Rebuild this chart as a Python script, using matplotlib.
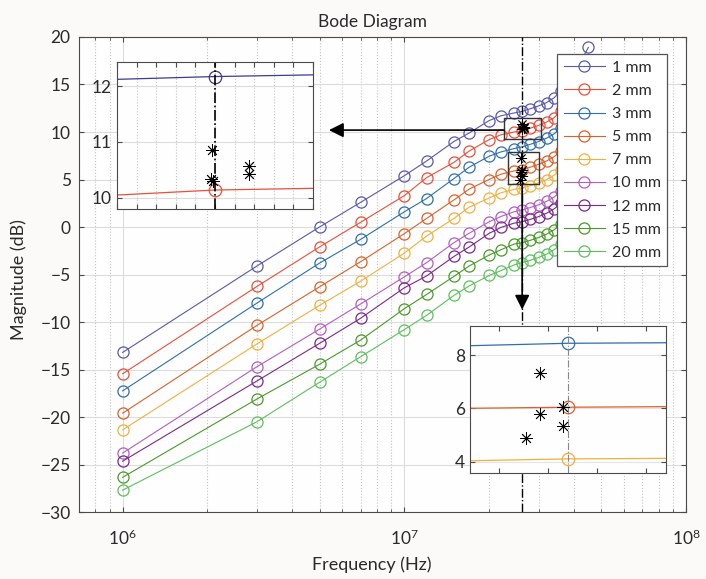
"""
Diagramme de Bode : amplitude en fonction de la frequence pour plusieurs entrefers
"""
import numpy as np
import matplotlib.pyplot as plt
from matplotlib.ticker import LogLocator, MultipleLocator, NullFormatter

plt.rcParams['font.family'] = ['Lato', 'DejaVu Sans']

# frequences des points de mesure (Hz)
freq = [1e6, 3e6, 5e6, 7e6, 1e7, 1.2e7, 1.5e7, 1.7e7, 2e7, 2.2e7, 2.45e7, 2.62e7,
        2.8e7, 3e7, 3.2e7, 3.4e7, 3.6e7, 3.8e7, 4.1e7, 4.5e7]

# amplitude (dB) pour chaque entrefer
mag_1mm = [-13.2, -4.1, 0.0, 2.6, 5.4, 6.95, 9.0, 9.9, 11.2, 11.7, 12.0, 12.17,
           12.45, 12.75, 13.1, 13.6, 14.3, 15.2, 16.7, 18.9]
mag_2mm = [-15.45, -6.25, -2.1, 0.5, 3.3, 5.2, 6.8, 8.0, 9.2, 9.7, 10.0, 10.14,
           10.4, 10.7, 11.05, 11.5, 12.2, 13.0, 14.4, 16.5]
mag_3mm = [-17.25, -8.0, -3.8, -1.3, 1.6, 3.0, 5.1, 6.3, 7.45, 7.9, 8.25, 8.44,
           8.7, 9.0, 9.35, 9.8, 10.4, 11.2, 12.5, 14.6]
mag_5mm = [-19.6, -10.35, -6.3, -3.65, -0.7, 0.9, 2.85, 4.0, 5.0, 5.55, 5.9, 6.04,
           6.3, 6.6, 6.95, 7.4, 8.0, 8.8, 10.1, 12.2]
mag_7mm = [-21.35, -12.3, -8.25, -5.7, -2.75, -0.95, 0.9, 2.1, 3.05, 3.6, 3.95, 4.1,
           4.35, 4.65, 5.0, 5.45, 6.05, 6.85, 8.1, 10.2]
mag_10mm = [-23.8, -14.7, -10.75, -8.1, -5.25, -3.75, -1.65, -0.65, 0.55, 1.1, 1.6, 1.8,
            2.05, 2.35, 2.7, 3.15, 3.75, 4.5, 5.8, 7.9]
mag_12mm = [-24.65, -16.2, -12.25, -9.6, -6.4, -5.15, -3.1, -2.1, -0.67, -0.05, 0.4, 0.56,
            0.8, 1.1, 1.45, 1.9, 2.5, 3.25, 4.55, 6.65]
mag_15mm = [-26.35, -18.1, -14.45, -11.9, -8.6, -7.1, -5.2, -4.1, -2.95, -2.4, -1.8, -1.65,
            -1.4, -1.1, -0.75, -0.3, 0.3, 1.1, 2.4, 4.5]
mag_20mm = [-27.7, -20.5, -16.35, -13.65, -10.8, -9.3, -7.2, -6.2, -5.1, -4.6, -4.0, -3.75,
            -3.5, -3.2, -2.85, -2.4, -1.8, -1.0, 0.3, 2.4]

labels = ['1 mm', '2 mm', '3 mm', '5 mm', '7 mm', '10 mm', '12 mm', '15 mm', '20 mm']
series = [mag_1mm, mag_2mm, mag_3mm, mag_5mm, mag_7mm, mag_10mm, mag_12mm, mag_15mm, mag_20mm]
colors = ['#5a5aaa', '#e8503a', '#2f6fae', '#d9622b', '#f0b040',
          '#b060c0', '#7a2a8a', '#4a9a2a', '#5cc05c']

# frequence de la coupe (trait mixte) et son indice
f_cut = 2.62e7
i_cut = freq.index(f_cut)

# zoom 1 : 1 mm et 2 mm autour de la coupe
z1_freq = [2.52e7, 2.62e7, 2.72e7]
z1_1mm = [12.12, 12.17, 12.20]
z1_2mm = [10.05, 10.14, 10.17]
star1_f = [2.617e7, 2.616e7, 2.618e7, 2.655e7, 2.655e7]
star1_db = [10.86, 10.33, 10.31, 10.57, 10.42]

# zoom 2 : 3 mm, 5 mm et 7 mm autour de la coupe
z2_freq = [2.52e7, 2.62e7, 2.72e7]
z2_3mm = [8.35, 8.44, 8.46]
z2_5mm = [6.0, 6.04, 6.06]
z2_7mm = [4.03, 4.1, 4.12]
star2_f = [2.592e7, 2.592e7, 2.577e7, 2.615e7, 2.615e7]
star2_db = [7.31, 5.77, 4.90, 6.05, 5.34]

asterisk = (8, 2, 0)
spine_col = '#4a4a4a'
txt_col = '#2a2a2a'

fig = plt.figure(figsize=(7.06, 5.79), dpi=100, facecolor='#fbfaf9')
ax = fig.add_axes([0.1119, 0.1157, 0.8598, 0.8204])
ax.set_facecolor('#fefefe')

for mag, lab, col in zip(series, labels, colors):
    ax.plot(freq, mag, color=col, lw=0.8, marker='o', ms=8, mfc='none', mew=0.9, label=lab)

ax.set_xscale('log')
ax.set_xlim(7e5, 1e8)
ax.set_ylim(-30, 20)
ax.yaxis.set_major_locator(MultipleLocator(5))
ax.xaxis.set_major_locator(LogLocator(base=10))
ax.xaxis.set_minor_locator(LogLocator(base=10, subs=np.arange(2, 10)))
ax.xaxis.set_minor_formatter(NullFormatter())
ax.grid(True, which='major', color='#dcdcdc', lw=0.8)
ax.grid(True, which='minor', axis='x', color='#c4c4c4', lw=0.8, ls=':')
ax.set_axisbelow(True)
ax.tick_params(which='both', direction='in', top=True, right=True, colors=spine_col,
               labelcolor=txt_col, labelsize=12.5)
ax.tick_params(axis='x', pad=12)
ax.tick_params(axis='y', pad=6)
for sp in ax.spines.values():
    sp.set_color(spine_col)

ax.set_title('Bode Diagram', fontsize=12.5, color=txt_col, x=0.483, pad=7)
ax.set_xlabel('Frequency (Hz)', fontsize=13, color=txt_col)
ax.xaxis.set_label_coords(0.483, -0.094)
ax.set_ylabel('Magnitude (dB)', fontsize=13, color=txt_col)
ax.yaxis.set_label_coords(-0.086, 0.49)

# coupe verticale et points mesures
ax.axvline(f_cut, color='k', lw=1.0, ls='-.', zorder=4)
ax.plot(star1_f + star2_f, star1_db + star2_db, ls='none', marker=asterisk,
        ms=8, color='k', mew=0.6, zorder=5)

# cadres des zones agrandies
bx1 = [2.26e7, 3.06e7, 3.06e7, 2.26e7, 2.26e7]
by1 = [9.23, 9.23, 11.44, 11.44, 9.23]
bx2 = [2.34e7, 3.01e7, 3.01e7, 2.34e7, 2.34e7]
by2 = [4.53, 4.53, 7.93, 7.93, 4.53]
ax.plot(bx1, by1, color='#333333', lw=1.0, zorder=5)
ax.plot(bx2, by2, color='#333333', lw=1.0, zorder=5)

# fleches vers les zooms
ax.annotate('', xy=(5.4e6, 10.2), xytext=(2.26e7, 10.2),
            arrowprops=dict(arrowstyle='-|>', color='k', lw=1.2, mutation_scale=22,
                            shrinkA=0, shrinkB=0), zorder=6)
ax.annotate('', xy=(f_cut, -8.7), xytext=(f_cut, 4.53),
            arrowprops=dict(arrowstyle='-|>', color='k', lw=1.2, mutation_scale=22,
                            shrinkA=0, shrinkB=0), zorder=6)

leg = ax.legend(loc='upper left', bbox_to_anchor=(0.788, 0.9636), fontsize=11.5,
                frameon=True, fancybox=False, edgecolor='#555555', framealpha=1,
                handlelength=2.6, labelspacing=0.56, borderpad=0.4,
                handletextpad=0.4, borderaxespad=0)
leg.get_frame().set_linewidth(0.9)
leg.set_zorder(10)
for t in leg.get_texts():
    t.set_color(txt_col)


def style_inset(a):
    a.set_facecolor('#fefefe')
    a.tick_params(which='both', direction='in', top=True, right=True, colors=spine_col,
                  labelcolor=txt_col, labelsize=12.5, labelbottom=False)
    for sp in a.spines.values():
        sp.set_color(spine_col)


# zoom 1
ax1 = fig.add_axes([0.1657, 0.639, 0.2776, 0.2539])
style_inset(ax1)
ax1.plot(z1_freq, z1_1mm, color='#3c3c90', lw=0.9)
ax1.plot(z1_freq, z1_2mm, color=colors[1], lw=0.9)
ax1.plot([f_cut], [mag_1mm[i_cut]], ls='none', marker='o', ms=9, mfc='none', mew=0.9, color='#3c3c90')
ax1.plot([f_cut], [mag_2mm[i_cut]], ls='none', marker='o', ms=9, mfc='none', mew=0.9, color=colors[1])
ax1.axvline(f_cut, color='k', lw=1.2, ls='-.')
ax1.plot(star1_f, star1_db, ls='none', marker=asterisk, ms=9, color='k', mew=0.6)
ax1.set_xlim(2.52e7, 2.72e7)
ax1.set_ylim(9.8, 12.43)
ax1.xaxis.set_major_locator(MultipleLocator(0.02e7))
ax1.yaxis.set_major_locator(MultipleLocator(1))
ax1.grid(True, axis='y', color='#dcdcdc', lw=0.8)
ax1.grid(True, axis='x', color='#c4c4c4', lw=0.8, ls=':')
ax1.set_axisbelow(True)

# zoom 2
ax2 = fig.add_axes([0.6657, 0.1826, 0.2772, 0.2544])
style_inset(ax2)
ax2.plot(z2_freq, z2_3mm, color=colors[2], lw=0.9)
ax2.plot(z2_freq, z2_5mm, color=colors[3], lw=0.9)
ax2.plot(z2_freq, z2_7mm, color=colors[4], lw=0.9)
for mag, col in [(mag_3mm, colors[2]), (mag_5mm, colors[3]), (mag_7mm, colors[4])]:
    ax2.plot([f_cut], [mag[i_cut]], ls='none', marker='o', ms=9, mfc='none', mew=0.9, color=col)
ax2.axvline(f_cut, color='#888888', lw=0.8, ls='-.')
ax2.plot(star2_f, star2_db, ls='none', marker=asterisk, ms=9, color='k', mew=0.6)
ax2.set_xlim(2.52e7, 2.72e7)
ax2.set_ylim(3.56, 9.09)
ax2.xaxis.set_major_locator(MultipleLocator(0.05e7))
ax2.yaxis.set_major_locator(MultipleLocator(2))
ax2.grid(True, axis='y', color='#e4e4e4', lw=0.8)
ax2.set_axisbelow(True)

fig.savefig('out.png', dpi=100, facecolor=fig.get_facecolor())
